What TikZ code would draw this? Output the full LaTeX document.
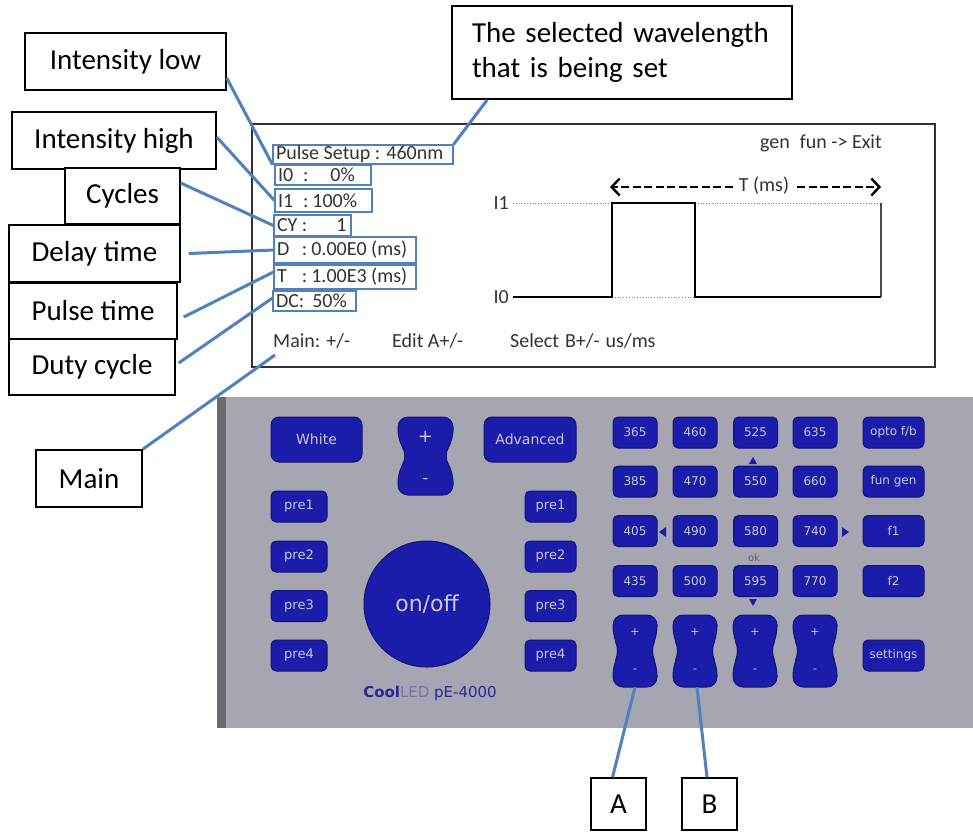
\documentclass[tikz,border=0pt]{standalone}
\usepackage{fontspec}
\setmainfont{Carlito}
\newfontfamily\kfont{DejaVu Sans}
\usetikzlibrary{arrows.meta,calc}
\definecolor{connc}{RGB}{79,129,189}
\definecolor{btnblue}{RGB}{28,28,170}
\definecolor{btnedge}{RGB}{18,18,115}
\definecolor{panelc}{RGB}{166,166,178}
\definecolor{paneldark}{RGB}{108,108,112}
\definecolor{btntext}{RGB}{200,200,222}
\definecolor{scrtext}{RGB}{50,50,50}
\definecolor{framec}{RGB}{50,50,50}
\definecolor{logoblue}{RGB}{40,40,150}
\definecolor{ledgray}{RGB}{115,115,175}
\definecolor{okgray}{RGB}{95,95,115}
\newcommand\rocker[6]{%
  \filldraw[fill=btnblue, draw=btnedge, line width=1pt, rounded corners=10pt]
    ({#2-#4/2},{#3-#5/2}) -- ({#2+#4/2},{#3-#5/2}) -- ({#2+#4/2},{#3-#5/5})
    -- ({#2+#4/2-#6},{#3}) -- ({#2+#4/2},{#3+#5/5}) -- ({#2+#4/2},{#3+#5/2})
    -- ({#2-#4/2},{#3+#5/2}) -- ({#2-#4/2},{#3+#5/5}) -- ({#2-#4/2+#6},{#3})
    -- ({#2-#4/2},{#3-#5/5}) -- cycle;
  \node[minimum width=#4, minimum height=#5, inner sep=0pt] (#1) at (#2,#3) {};
}
\begin{document}
\begin{tikzpicture}[x=1pt,y=-1pt,
  lbl/.style={draw=black, line width=1.4pt, fill=white, inner sep=0pt, text=black,
    font=\fontsize{29}{34}\selectfont},
  connline/.style={draw=connc, line width=3pt},
  scrbox/.style={draw=connc, line width=1.1pt, inner xsep=3pt, inner ysep=0pt,
    text=scrtext, font=\fontsize{20}{22}\selectfont},
  scrtxt/.style={text=scrtext, inner sep=0pt, font=\fontsize{20}{22}\selectfont},
  kbtn/.style={fill=btnblue, draw=btnedge, line width=1pt, rounded corners=5pt,
    text=btntext, inner sep=0pt, font=\kfont\fontsize{12}{14}\selectfont},
  ktxt/.style={text=btntext, inner sep=0pt, font=\kfont\fontsize{11}{12}\selectfont},
  dasharrow/.style={line width=2.4pt, dash pattern=on 8pt off 3.5pt,
    -{Straight Barb[length=8pt,width=17pt,line width=2.4pt]}},
  tri/.style={fill=btnblue}
]
\useasboundingbox (0,0) rectangle (973,831);

% ---------- keypad panel ----------
\fill[panelc] (217,397) rectangle (973,728);
\fill[paneldark] (217,397) rectangle (226,728);

% ---------- screen ----------
\draw[line width=1.6pt, draw=framec] (252,124) rectangle (935,367);

\node[scrbox, minimum height=19pt] (pulse) at (363,154.5) {\makebox[174pt][l]{Pulse Setup : 460nm}};
\node[scrbox, minimum height=20pt] (izero) at (323,175) {\makebox[90pt][l]{\makebox[25pt][l]{I0}:\hspace{22pt}0\%}};
\node[scrbox, minimum height=23pt] (ione) at (323.5,200.5) {\makebox[91pt][l]{\makebox[25pt][l]{I1}:\hspace{4pt}100\%}};
\node[scrbox, minimum height=21pt] (cy) at (312.5,225.5) {\makebox[71pt][l]{\makebox[25pt][l]{CY}:\hspace{29pt}1}};
\node[scrbox, minimum height=26pt] (dd) at (345,250) {\makebox[136pt][l]{\makebox[25pt][l]{D}:\hspace{4pt}0.00E0 (ms)}};
\node[scrbox, minimum height=24pt] (tt) at (345,277) {\makebox[136pt][l]{\makebox[25pt][l]{T}:\hspace{4pt}1.00E3 (ms)}};
\node[scrbox, minimum height=20pt] (dc) at (314.5,301) {\makebox[77pt][l]{DC:\hspace{8pt}50\%}};

\node[scrtxt, anchor=west] (mainscr) at (273,341) {Main: +/-};
\node[scrtxt, anchor=west] (editscr) at (392,341) {Edit A+/-};
\node[scrtxt, anchor=west] (selscr) at (510,341) {Select\hspace{6pt}B+/-\hspace{6pt}us/ms};
\coordinate (mainend) at (275,355);

\node[scrtxt, anchor=east] (genfun) at (882,143) {gen\hspace{10pt}fun -> Exit};
\node[scrtxt] (tms) at (764,186) {T (ms)};
\coordinate (larrow) at (610,187);
\coordinate (rarrow) at (881,187);
\draw[dasharrow] ([xshift=-6pt]tms.west |- larrow) -- (larrow);
\draw[dasharrow] ([xshift=8pt]tms.east |- rarrow) -- (rarrow);

\node[scrtxt, anchor=east] (ionel) at (509,203) {I1};
\node[scrtxt, anchor=east] (izerol) at (509,297) {I0};
\draw[gray, line width=0.8pt, dotted] (513,203) -- (881,203);
\draw[gray, line width=0.8pt, dotted] (612,297) -- (695,297);
\draw[black!70, line width=1.2pt] (881,297) -- (881,203);
\draw[black, line width=2.4pt] (513,297) -- (612,297) -- (612,203) -- (695,203) -- (695,297) -- (881,297);

% ---------- keypad left ----------
\node[kbtn, minimum width=91pt, minimum height=45pt, rounded corners=8pt, font=\kfont\fontsize{14}{16}\selectfont] (white) at (316.5,439.5) {White};
\node[kbtn, minimum width=92pt, minimum height=45pt, rounded corners=8pt, font=\kfont\fontsize{14}{16}\selectfont] (adv) at (530,439.5) {Advanced};
\rocker{rtop}{425.5}{456}{55}{78}{10}
\node[ktxt, font=\kfont\fontsize{18}{20}\selectfont] (rtopp) at (425.5,437) {+};
\node[ktxt, font=\kfont\fontsize{16}{18}\selectfont] (rtopm) at (425.5,481) {-};

\foreach \n/\y in {1/506.5,2/556.5,3/606,4/655.5}{
  \node[kbtn, minimum width=56pt, minimum height=31pt, font=\kfont\fontsize{13}{15}\selectfont] (lpre\n) at (299,\y) {pre\n};
  \node[kbtn, minimum width=51pt, minimum height=31pt, font=\kfont\fontsize{13}{15}\selectfont] (rpre\n) at (550.5,\y) {pre\n};
}
\node[circle, fill=btnblue, draw=btnedge, line width=1pt, minimum size=126pt, inner sep=0pt,
  text=btntext, font=\kfont\fontsize{22}{24}\selectfont] (onoff) at (427,604) {on/off};
\node[inner sep=0pt, font=\kfont\fontsize{15}{17}\selectfont] (logo) at (430,693)
  {\textcolor{logoblue}{\bfseries Cool}\textcolor{ledgray}{LED} \textcolor{logoblue}{pE-4000}};

% ---------- keypad right ----------
\foreach \lab/\x/\y in {365/635/432.5, 460/695/432.5, 525/755.5/432.5, 635/815/432.5,
  385/635/481.5, 470/695/481.5, 550/755.5/481.5, 660/815/481.5,
  405/635/531, 490/695/531, 580/755.5/531, 740/815/531,
  435/635/581, 500/695/581, 595/755.5/581, 770/815/581}{
  \node[kbtn, minimum width=44pt, minimum height=31pt] (k\lab) at (\x,\y) {\lab};
}
\node[kbtn, minimum width=61pt, minimum height=31pt] (kopto) at (893.5,432.5) {opto f/b};
\node[kbtn, minimum width=61pt, minimum height=31pt] (kfun) at (893.5,481.5) {fun gen};
\node[kbtn, minimum width=61pt, minimum height=31pt] (kfone) at (893.5,531) {f1};
\node[kbtn, minimum width=61pt, minimum height=31pt] (kftwo) at (893.5,581) {f2};
\node[kbtn, minimum width=61pt, minimum height=31pt] (kset) at (893.5,655.5) {settings};

\fill[tri] (749,464) -- (757,464) -- (753,457) -- cycle;
\fill[tri] (666,527) -- (666,537) -- (659,532) -- cycle;
\fill[tri] (842,527) -- (842,537) -- (849,532) -- cycle;
\fill[tri] (749,599) -- (757,599) -- (753,606) -- cycle;
\node[inner sep=0pt, text=okgray, font=\kfont\fontsize{10}{11}\selectfont] (okl) at (754,558) {ok};

\foreach \i/\x in {1/635,2/695,3/755,4/815}{
  \rocker{r\i}{\x}{651}{44}{72}{7}
  \node[ktxt] (r\i p) at (\x,632) {+};
  \node[ktxt] (r\i m) at (\x,671) {-};
}

% ---------- label boxes ----------
\node[lbl, minimum width=201pt, minimum height=57pt] (ilow) at (125.5,61.5) {Intensity low};
\node[lbl, minimum width=204pt, minimum height=57pt] (ihigh) at (114,140.5) {Intensity high};
\node[lbl, minimum width=115pt, minimum height=56pt] (cyc) at (122.5,196) {Cycles};
\node[lbl, minimum width=171pt, minimum height=57pt] (delay) at (94.5,253.5) {Delay time};
\node[lbl, minimum width=168pt, minimum height=56pt] (ptime) at (93,311) {Pulse time};
\node[lbl, minimum width=166pt, minimum height=56pt] (duty) at (92,367) {Duty cycle};
\node[lbl, minimum width=106pt, minimum height=57pt] (mainl) at (89,478.5) {Main};
\node[lbl, minimum height=93pt, text width=300pt, inner xsep=20pt, align=left,
  font=\fontsize{29}{35}\selectfont] (wave) at (622,52.5) {The selected wavelength\\that is being set};
\node[lbl, minimum width=55pt, minimum height=52pt] (la) at (618.5,804) {A};
\node[lbl, minimum width=55pt, minimum height=52pt] (lb) at (709.5,804) {B};

% ---------- connectors ----------
\draw[connline] ([yshift=-16.5pt]ilow.east) -- (pulse.south west);
\draw[connline] ([yshift=3.5pt]ihigh.east) -- (ione.west);
\draw[connline] ([yshift=13pt]cyc.east) -- (cy.west);
\draw[connline] ([xshift=8pt]delay.east) -- (dd.west);
\draw[connline] ([xshift=6pt,yshift=-6pt]ptime.east) -- ([yshift=5pt]tt.west);
\draw[connline] ([xshift=3pt,yshift=4pt]duty.east) -- ([yshift=3pt]dc.west);
\draw[connline] (mainl.north east) -- (mainend);
\draw[connline] ([xshift=36pt]wave.south west) -- (pulse.north east);
\draw[connline] (r1.south) -- ([xshift=-6pt]la.north);
\draw[connline] ([xshift=2pt]r2.south) -- ([xshift=-2.5pt]lb.north);
\end{tikzpicture}
\end{document}
